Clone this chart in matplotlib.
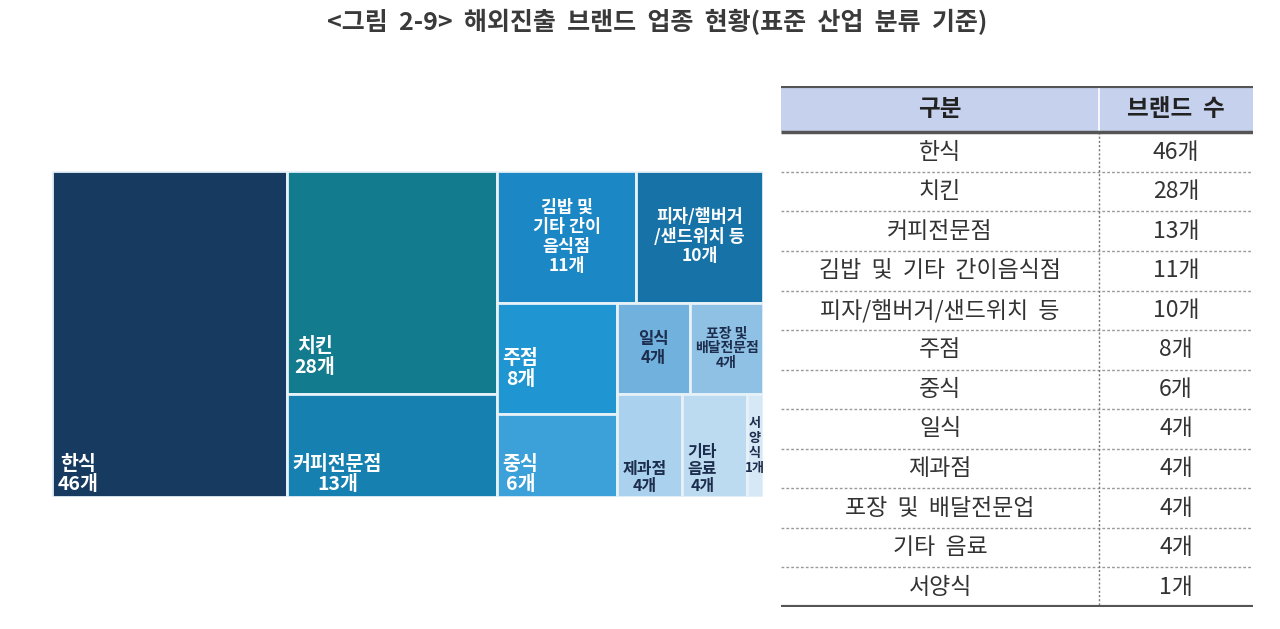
import numpy as np
import matplotlib
matplotlib.use("Agg")
import matplotlib.pyplot as plt
from matplotlib.patches import Rectangle

plt.rcParams['font.family'] = ['Noto Sans CJK KR', 'DejaVu Sans']

TITLE = "<그림  2-9>  해외진출  브랜드  업종  현황(표준  산업  분류  기준)"

# treemap data (order follows the treemap)
tm_labels = ["한식", "치킨", "커피전문점", "김밥 및\n기타 간이\n음식점", "피자/햄버거\n/샌드위치 등",
             "주점", "중식", "일식", "포장 및\n배달전문점", "제과점", "기타\n음료", "서\n양\n식"]
tm_values = [46, 28, 13, 11, 10, 8, 6, 4, 4, 4, 4, 1]
tm_colors = ["#173a60", "#127b8d", "#1680b0", "#1c87c5", "#1672a7", "#1f96d1",
             "#3ca1d9", "#70b1dd", "#8ec1e4", "#aad1ed", "#bddbf0", "#d6e8f5"]
tm_text_dark = [False, False, False, False, False, False, False, True, True, True, True, True]
# nesting of the treemap: columns / rows alternate with depth
TM_TREE = [[0], [1, 2], [[3, 4], [[5, 6], [[7, 8], [9, 10, 11]]]]]
# label placement style and size per cell
tm_place = ["bl", "bl_hi", "bl", "c", "c", "bl_mid", "bl", "c", "c", "bl", "bl", "c"]
tm_fsize = [14, 14, 14, 12.5, 12.5, 14, 14, 12, 10, 11.5, 11.5, 9.5]

# table data
table_header = ["구분", "브랜드 수"]
table_labels = ["한식", "치킨", "커피전문점", "김밥 및 기타 간이음식점", "피자/햄버거/샌드위치 등",
                "주점", "중식", "일식", "제과점", "포장 및 배달전문업", "기타 음료", "서양식"]
table_values = [46, 28, 13, 11, 10, 8, 6, 4, 4, 4, 4, 1]


def node_sum(node):
    if isinstance(node, int):
        return tm_values[node]
    return sum(node_sum(c) for c in node)


def layout(node, x, y, w, h, horiz, out):
    if isinstance(node, int):
        out[node] = (x, y, w, h)
        return
    total = node_sum(node)
    pos = 0.0
    for child in node:
        frac = node_sum(child) / total
        if horiz:
            layout(child, x + pos * w, y, frac * w, h, not horiz, out)
        else:
            layout(child, x, y + pos * h, w, frac * h, not horiz, out)
        pos += frac


def draw_treemap(ax):
    rects = {}
    layout(TM_TREE, 0.0, 0.0, 1.0, 1.0, True, rects)
    ax.set_xlim(0, 1)
    ax.set_ylim(1, 0)
    ax.axis("off")
    for i, (x, y, w, h) in rects.items():
        ax.add_patch(Rectangle((x, y), w, h, facecolor=tm_colors[i],
                               edgecolor="#e6f1f8", lw=2))
        color = "#1d2d4d" if tm_text_dark[i] else "white"
        text = f"{tm_labels[i]}\n{tm_values[i]}개"
        kw = dict(color=color, fontsize=tm_fsize[i], fontweight="bold",
                  multialignment="center", linespacing=1.1,
                  textcoords="offset points")
        p = tm_place[i]
        if p == "c":
            ax.annotate(text, (x + w / 2, y + h / 2), xytext=(0, 0),
                        ha="center", va="center", **kw)
        elif p == "bl_hi":
            ax.annotate(text, (x, y + h), xytext=(5, 12),
                        ha="left", va="bottom", **kw)
        elif p == "bl_mid":
            ax.annotate(text, (x, y + h), xytext=(4, 18),
                        ha="left", va="bottom", **kw)
        else:
            ax.annotate(text, (x, y + h), xytext=(4, 2),
                        ha="left", va="bottom", **kw)


def draw_table(ax):
    n = len(table_labels)
    head_h = 1.17
    split = 0.674
    ax.set_xlim(0, 1)
    ax.set_ylim(head_h + n, 0)
    ax.axis("off")

    ax.add_patch(Rectangle((0, 0), 1, head_h, facecolor="#c6d1ee", edgecolor="none"))
    ax.plot([split, split], [0, head_h], color="white", lw=1.2)
    ax.text(split / 2, head_h / 2, table_header[0], ha="center", va="center",
            fontsize=17, fontweight="bold", color="#222")
    ax.text((1 + split) / 2, head_h / 2, table_header[1].replace(" ", "  "),
            ha="center", va="center", fontsize=17, fontweight="bold", color="#222")

    for i, (lab, val) in enumerate(zip(table_labels, table_values)):
        yc = head_h + i + 0.5
        ax.text(split / 2, yc, lab.replace(" ", "  "), ha="center", va="center",
                fontsize=16.5, color="#333")
        ax.text((1 + split) / 2, yc, f"{val}개", ha="center", va="center",
                fontsize=16.5, color="#333")
        if i > 0:
            ax.plot([0, 1], [head_h + i, head_h + i], color="#999999", lw=1,
                    ls=(0, (2, 1.5)))

    ax.plot([split, split], [head_h, head_h + n], color="#777777", lw=1, ls=(0, (1.5, 1.5)))
    ax.plot([0, 1], [0, 0], color="#555555", lw=3, solid_capstyle="butt")
    ax.plot([0, 1], [head_h, head_h], color="#555555", lw=2.5, solid_capstyle="butt")
    ax.plot([0, 1], [head_h + n, head_h + n], color="#555555", lw=3, solid_capstyle="butt")


def main():
    fig = plt.figure(figsize=(12.8, 6.29), dpi=100)
    W, H = 1280, 629

    fig.text(657 / W, 1 - 22 / H, TITLE, ha="center", va="center",
             fontsize=18, color="#3a3a3a", fontweight="bold")

    ax_tm = fig.add_axes([52 / W, 1 - 497 / H, 711 / W, 326 / H])
    draw_treemap(ax_tm)

    ax_tb = fig.add_axes([781 / W, 1 - 607 / H, 472 / W, 521 / H])
    draw_table(ax_tb)

    fig.savefig("out.png", dpi=100, facecolor="white")
    plt.close(fig)


if __name__ == "__main__":
    main()
